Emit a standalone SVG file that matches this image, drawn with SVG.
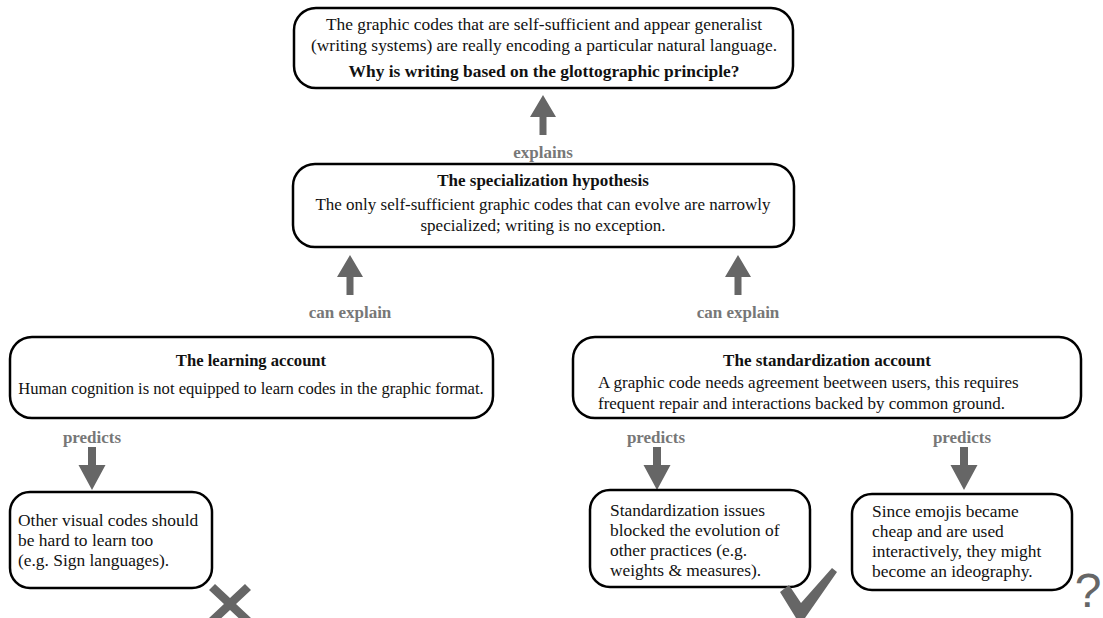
<svg xmlns="http://www.w3.org/2000/svg" width="1103" height="618" viewBox="0 0 1103 618">
<style>
.box{fill:#fff;stroke:#000;stroke-width:2.5}
.t{font-family:"Liberation Serif","Times New Roman",serif;font-size:17.4px;fill:#111}
.b{font-weight:bold}
.c{text-anchor:middle}
.lbl{font-family:"Liberation Serif","Times New Roman",serif;font-size:17px;font-weight:bold;fill:#777;text-anchor:middle}
.arr{fill:#666}
</style>
<defs>
<path id="up" d="M-3.5,0 L-3.5,-18 L-13,-18 L0,-40 L13,-18 L3.5,-18 L3.5,0 Z"/>
<path id="down" d="M-4,0 L-4,18 L-13.5,18 L0,43 L13.5,18 L4,18 L4,0 Z"/>
</defs>
<g id="connectors" class="arr">
<use href="#up" x="543" y="135"/>
<text class="lbl" x="543" y="158">explains</text>
<use href="#up" x="350" y="295"/>
<use href="#up" x="738" y="295"/>
<text class="lbl" x="350" y="318">can explain</text>
<text class="lbl" x="738" y="318">can explain</text>
<text class="lbl" x="92" y="443">predicts</text>
<text class="lbl" x="656" y="443">predicts</text>
<text class="lbl" x="962" y="443">predicts</text>
<use href="#down" x="92" y="447"/>
<use href="#down" x="657" y="447"/>
<use href="#down" x="964" y="447"/>
</g>
<g id="top">
<rect class="box" x="294" y="8" width="499" height="80" rx="22"/>
<text class="t c" x="544" y="30">The graphic codes that are self-sufficient and appear generalist</text>
<text class="t c" x="544" y="51">(writing systems) are really encoding a particular natural language.</text>
<text class="t c b" x="544" y="77">Why is writing based on the glottographic principle?</text>
</g>
<g id="specialization">
<rect class="box" x="293" y="164" width="501" height="83" rx="22"/>
<text class="t c b" x="543" y="186" style="font-size:17px">The specialization hypothesis</text>
<text class="t c" x="543" y="210" style="font-size:17px">The only self-sufficient graphic codes that can evolve are narrowly</text>
<text class="t c" x="543" y="231" style="font-size:17px">specialized; writing is no exception.</text>
</g>
<g id="learning">
<rect class="box" x="10" y="337" width="483" height="81" rx="22"/>
<text class="t c b" x="251" y="366" style="font-size:16.6px">The learning account</text>
<text class="t c" x="251" y="394" style="font-size:16.6px">Human cognition is not equipped to learn codes in the graphic format.</text>
</g>
<g id="standardization">
<rect class="box" x="573" y="337" width="508" height="81" rx="22"/>
<text class="t c b" x="827" y="366" style="font-size:17px">The standardization account</text>
<text class="t" x="598" y="388" style="font-size:17px">A graphic code needs agreement beetween users, this requires</text>
<text class="t" x="598" y="409" style="font-size:17px">frequent repair and interactions backed by common ground.</text>
</g>
<g id="visual">
<rect class="box" x="10" y="492" width="202" height="96" rx="20"/>
<text class="t" x="18" y="526">Other visual codes should</text>
<text class="t" x="18" y="546">be hard to learn too</text>
<text class="t" x="18" y="566">(e.g. Sign languages).</text>
</g>
<g id="issues">
<rect class="box" x="590" y="490" width="220" height="97" rx="20"/>
<text class="t" x="610" y="516">Standardization issues</text>
<text class="t" x="610" y="536">blocked the evolution of</text>
<text class="t" x="610" y="556">other practices (e.g.</text>
<text class="t" x="610" y="576">weights &amp; measures).</text>
</g>
<g id="emojis">
<rect class="box" x="852" y="494" width="220" height="96" rx="20"/>
<text class="t" x="872" y="517">Since emojis became</text>
<text class="t" x="872" y="537">cheap and are used</text>
<text class="t" x="872" y="557">interactively, they might</text>
<text class="t" x="872" y="577">become an ideography.</text>
</g>
<g id="marks" fill="#666">
<path d="M215,584 L230,598 L245,584 L251,590 L236,604 L251,618 L245,624 L230,610 L215,624 L209,618 L224,604 L209,590 Z"/>
<path d="M780,592 L789,585 L801,603 L832,568 L837,572 L805,618 L796,618 Z"/>
<text x="1088" y="607" font-family="Liberation Sans,Arial,sans-serif" font-size="48" fill="#666" text-anchor="middle">?</text>
</g>
</svg>
